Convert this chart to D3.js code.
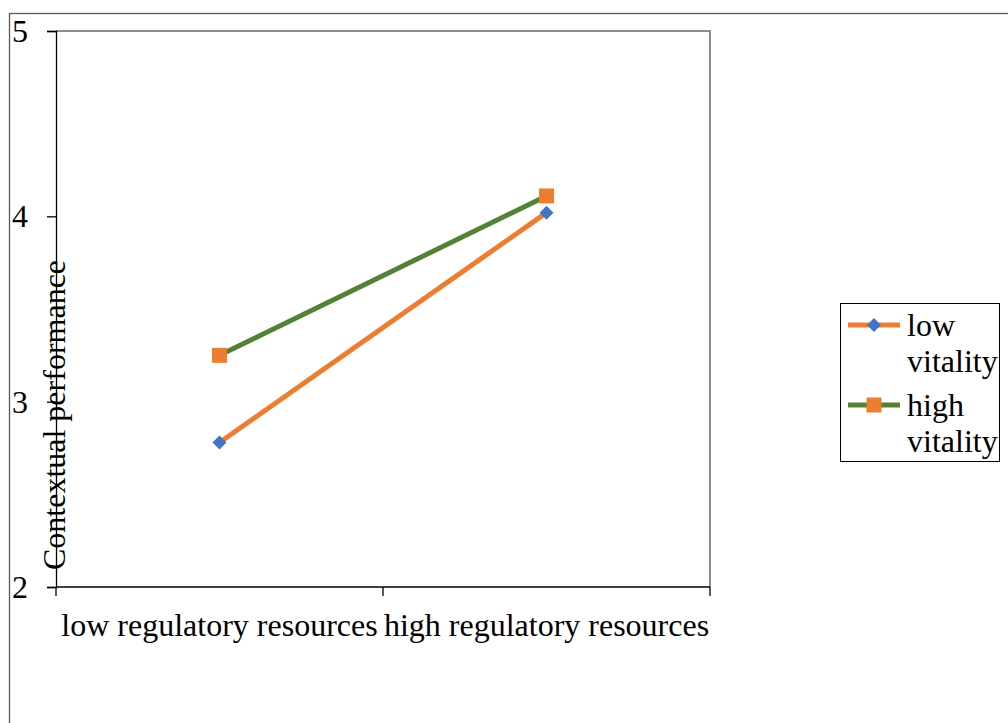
<!DOCTYPE html>
<html>
<head>
<meta charset="utf-8">
<script src="https://cdn.jsdelivr.net/npm/d3@7"></script>
<style>
  html, body { margin: 0; padding: 0; background: #fff; }
  svg { display: block; }
  text { font-family: "Liberation Serif", "Times New Roman", serif; fill: #000; }
</style>
</head>
<body>
<svg id="chart" width="1008" height="723"></svg>
<script>
// Categories along the x axis
const categories = ["low regulatory resources", "high regulatory resources"];
// Series names and values (contextual performance)
const seriesNames = ["low vitality", "high vitality"];
const lowVitality = [2.78, 4.02];
const highVitality = [3.25, 4.11];
// Y axis ticks
const yTicks = [2, 3, 4, 5];

const FONT = "32px";
const svg = d3.select("#chart");

// Outer chart frame
svg.append("rect")
  .attr("x", 9.5).attr("y", 13.5)
  .attr("width", 1010).attr("height", 730)
  .attr("fill", "none").attr("stroke", "#595959").attr("stroke-width", 1.3);

const plot = { left: 56, right: 710, top: 31, bottom: 587 };

const x = d3.scalePoint().domain(categories).range([plot.left, plot.right]).padding(0.5);
const xEdge = d3.scaleLinear().domain([0, categories.length]).range([plot.left, plot.right]);
const y = d3.scaleLinear().domain([2, 5]).range([plot.bottom, plot.top]);

// Plot area top and right border
svg.append("path")
  .attr("d", `M${plot.left},${plot.top}H${plot.right}V${plot.bottom}`)
  .attr("fill", "none").attr("stroke", "#8c8c8c").attr("stroke-width", 2);

// Y axis
const yAxis = d3.axisLeft(y).tickValues(yTicks).tickSize(9).tickPadding(0).tickFormat(d3.format("d"));
const gy = svg.append("g").attr("transform", `translate(${plot.left},0)`).call(yAxis);
gy.select(".domain").attr("stroke", "#000").attr("stroke-width", 1.3);
gy.selectAll(".tick line").attr("stroke", "#000").attr("stroke-width", 1.3);
gy.selectAll(".tick text")
  .attr("x", -36).attr("dy", "0.33em")
  .style("font-size", FONT)
  .style("font-family", "Liberation Serif, serif")
  .attr("text-anchor", "middle");

// X axis line with boundary ticks
const gx = svg.append("g").attr("transform", `translate(0,${plot.bottom})`);
gx.append("line")
  .attr("x1", plot.left).attr("x2", plot.right)
  .attr("stroke", "#000").attr("stroke-width", 1.3);
gx.selectAll(".xtick").data(d3.range(categories.length + 1)).enter().append("line")
  .attr("x1", d => xEdge(d)).attr("x2", d => xEdge(d))
  .attr("y1", 0).attr("y2", 9)
  .attr("stroke", "#000").attr("stroke-width", 1.3);
gx.selectAll(".xlab").data(categories).enter().append("text")
  .attr("x", d => x(d)).attr("y", 49)
  .attr("text-anchor", "middle")
  .style("font-size", FONT)
  .text(d => d);

// Y axis title
svg.append("text")
  .attr("transform", `translate(65,415) rotate(-90)`)
  .attr("text-anchor", "middle")
  .style("font-size", FONT)
  .text("Contextual performance");

// Series styling
const series = [
  { name: seriesNames[0], values: lowVitality, line: "#ED7D31", marker: "#4472C4", shape: "diamond" },
  { name: seriesNames[1], values: highVitality, line: "#548235", marker: "#ED7D31", shape: "square" }
];

const lineGen = d3.line().x((d, i) => x(categories[i])).y(d => y(d));

function drawMarker(g, shape, color, cx, cy) {
  if (shape === "diamond") {
    const r = 7;
    g.append("path")
      .attr("d", `M${cx},${cy - r}L${cx + r},${cy}L${cx},${cy + r}L${cx - r},${cy}Z`)
      .attr("fill", color);
  } else {
    const s = 15;
    g.append("rect")
      .attr("x", cx - s / 2).attr("y", cy - s / 2)
      .attr("width", s).attr("height", s)
      .attr("fill", color);
  }
}

series.forEach(s => {
  svg.append("path")
    .datum(s.values)
    .attr("d", lineGen)
    .attr("fill", "none")
    .attr("stroke", s.line)
    .attr("stroke-width", 5);
});
series.forEach(s => {
  const g = svg.append("g");
  s.values.forEach((v, i) => drawMarker(g, s.shape, s.marker, x(categories[i]), y(v)));
});

// Legend
const legend = svg.append("g");
legend.append("rect")
  .attr("x", 840.5).attr("y", 303.5).attr("width", 159).attr("height", 158)
  .attr("fill", "#fff").attr("stroke", "#000").attr("stroke-width", 1);
const legendRows = [
  { s: series[0], y: 325, lines: ["low", "vitality"] },
  { s: series[1], y: 405, lines: ["high", "vitality"] }
];
legendRows.forEach(r => {
  legend.append("line")
    .attr("x1", 848).attr("x2", 900).attr("y1", r.y).attr("y2", r.y)
    .attr("stroke", r.s.line).attr("stroke-width", 5);
  drawMarker(legend, r.s.shape, r.s.marker, 874, r.y);
  r.lines.forEach((t, k) => {
    legend.append("text")
      .attr("x", 907).attr("y", r.y + 11 + k * 36)
      .style("font-size", FONT)
      .text(t);
  });
});
</script>
</body>
</html>
